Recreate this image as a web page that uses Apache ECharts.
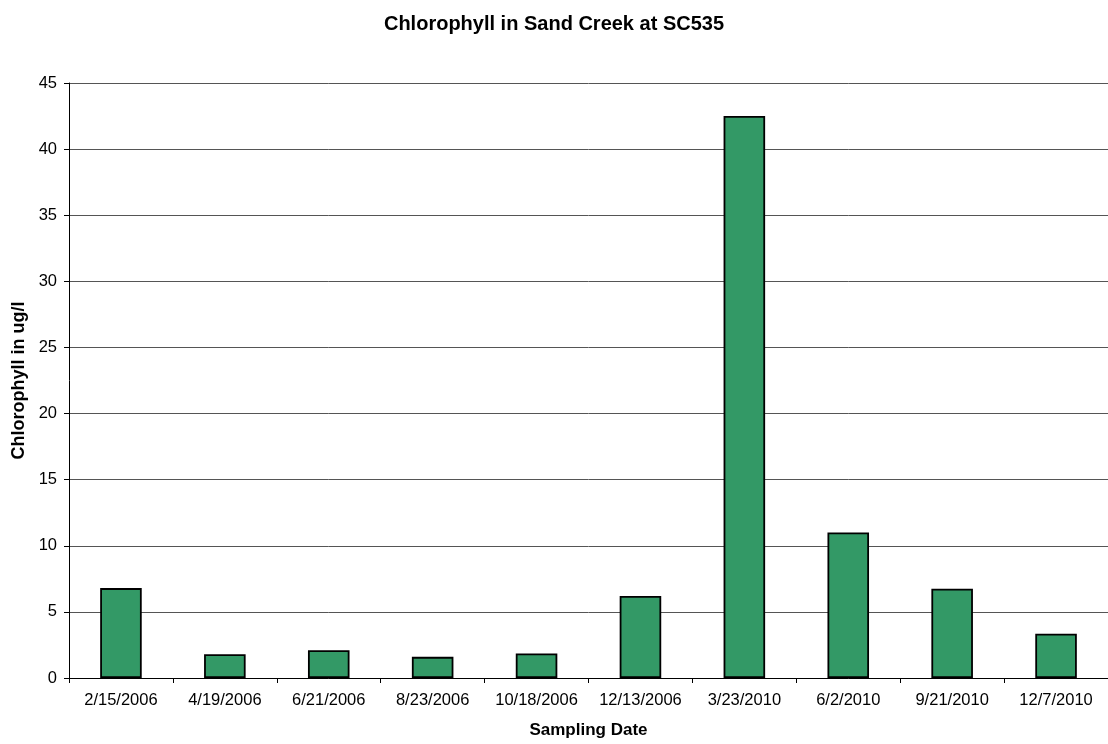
<!DOCTYPE html>
<html>
<head>
<meta charset="utf-8">
<script src="https://cdn.jsdelivr.net/npm/echarts@6/dist/echarts.min.js"></script>
<style>
  html, body { margin: 0; padding: 0; background: #fff; }
  #chart { width: 1108px; height: 744px; }
</style>
</head>
<body>
<div id="chart"></div>
<script>
// Sampling dates and chlorophyll results (ug/l)
const samplingDates = ['2/15/2006', '4/19/2006', '6/21/2006', '8/23/2006', '10/18/2006',
                       '12/13/2006', '3/23/2010', '6/2/2010', '9/21/2010', '12/7/2010'];
const chlorophyll = [6.8, 1.8, 2.1, 1.6, 1.85, 6.2, 42.5, 11.0, 6.75, 3.35];
const yTicks = [0, 5, 10, 15, 20, 25, 30, 35, 40, 45];

const font = 'Liberation Sans, Arial, sans-serif';
const chart = echarts.init(document.getElementById('chart'));
chart.setOption({
  animation: false,
  backgroundColor: '#ffffff',
  title: {
    text: 'Chlorophyll in Sand Creek at SC535',
    left: 'center',
    top: 9,
    textStyle: { fontFamily: font, fontSize: 20, fontWeight: 'bold', color: '#000' }
  },
  grid: { left: 69, right: 0, top: 83, bottom: 65 },
  xAxis: {
    type: 'category',
    data: samplingDates,
    name: 'Sampling Date',
    nameLocation: 'middle',
    nameGap: 44,
    nameTextStyle: { fontFamily: font, fontSize: 17, fontWeight: 'bold', color: '#000' },
    axisLine: { lineStyle: { color: '#000', width: 1 } },
    axisTick: { show: true, alignWithLabel: false, length: 5, lineStyle: { color: '#000' } },
    axisLabel: { fontFamily: font, fontSize: 16.5, color: '#000', margin: 14, interval: 0 }
  },
  yAxis: {
    type: 'value',
    min: yTicks[0],
    max: yTicks[yTicks.length - 1],
    interval: 5,
    name: 'Chlorophyll in ug/l',
    nameLocation: 'middle',
    nameGap: 39,
    nameTextStyle: { fontFamily: font, fontSize: 18, fontWeight: 'bold', color: '#000' },
    axisLine: { show: true, lineStyle: { color: '#000', width: 1 } },
    axisTick: { show: true, length: 5, lineStyle: { color: '#000' } },
    axisLabel: { fontFamily: font, fontSize: 16.5, color: '#000', margin: 12 },
    splitLine: { show: true, lineStyle: { color: '#555', width: 1 } }
  },
  series: [{
    type: 'bar',
    data: chlorophyll,
    barWidth: '40%',
    itemStyle: { color: '#339966', borderColor: '#000', borderWidth: 1.8 }
  }]
});
</script>
</body>
</html>
